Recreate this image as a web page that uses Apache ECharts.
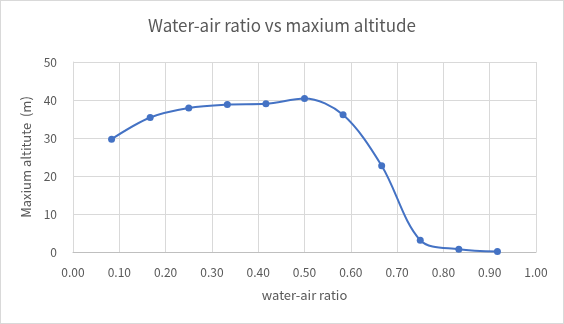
<!DOCTYPE html>
<html><head><meta charset="utf-8">
<script src="https://cdn.jsdelivr.net/npm/echarts@6/dist/echarts.min.js"></script>
<style>
html,body{margin:0;padding:0;background:#fff;}
#c{width:562px;height:322px;border:1px solid #d9d9d9;}
</style></head>
<body><div id="c"></div>
<script>
const ratios = [0.0833, 0.1667, 0.25, 0.3333, 0.4167, 0.5, 0.5833, 0.6667, 0.75, 0.8333, 0.9167];
const altitudes = [29.7, 35.4, 37.9, 38.8, 39.0, 40.4, 36.1, 22.7, 3.1, 0.7, 0.1];
const titleText = 'Water-air ratio vs maxium altitude';
const xName = 'water-air ratio';
const yName = 'Maxium altitute  (m)';

const font = '"Noto Sans CJK KR","Noto Sans",sans-serif';
const chart = echarts.init(document.getElementById('c'), null, {renderer:'canvas'});
chart.setOption({
  animation:false,
  textStyle:{fontFamily:font},
  title:{text:titleText,left:'center',top:11,textStyle:{fontFamily:font,fontSize:17,fontWeight:'normal',color:'#595959'}},
  grid:{left:72,right:27,top:61,bottom:71,containLabel:false},
  xAxis:{type:'value',min:0,max:1,interval:0.1,
    name:xName,nameLocation:'middle',nameGap:37,
    nameTextStyle:{fontFamily:font,fontSize:13,color:'#595959'},
    axisLine:{lineStyle:{color:'#bfbfbf'}},axisTick:{show:false},
    axisLabel:{color:'#595959',fontSize:12,margin:14,formatter:v=>v.toFixed(2)},
    splitLine:{show:true,lineStyle:{color:'#d9d9d9'}}},
  yAxis:{type:'value',min:0,max:50,interval:10,
    name:yName,nameLocation:'middle',nameGap:31,
    nameTextStyle:{fontFamily:font,fontSize:13,color:'#595959'},
    axisLine:{show:true,lineStyle:{color:'#d9d9d9'}},axisTick:{show:false},
    axisLabel:{color:'#595959',fontSize:12,margin:16},
    splitLine:{show:true,lineStyle:{color:'#d9d9d9'}}},
  series:[{type:'line',data:ratios.map((x,i)=>[x,altitudes[i]]),smooth:0.33,
    symbol:'circle',symbolSize:7,
    lineStyle:{color:'#4472C4',width:2},itemStyle:{color:'#4472C4'}}]
});
</script></body></html>
